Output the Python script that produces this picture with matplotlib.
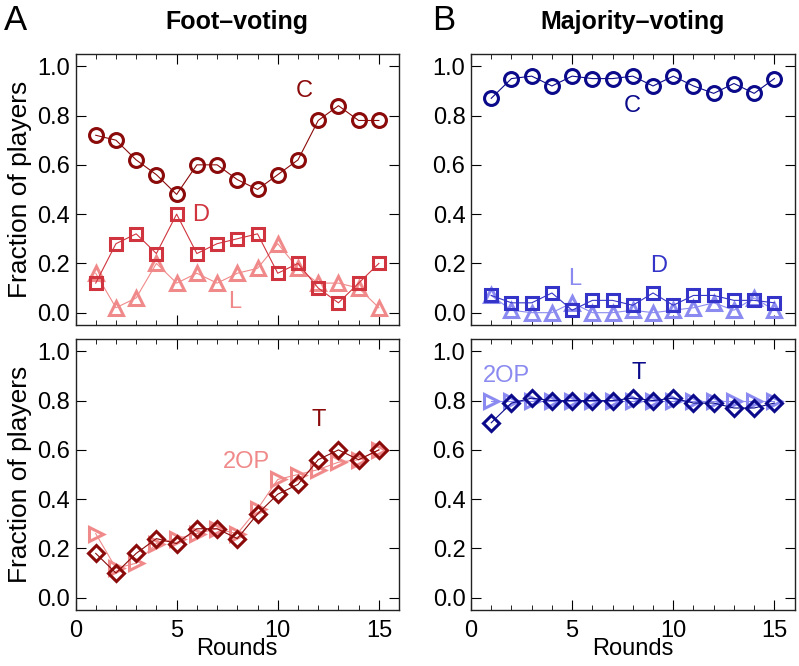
"""Foot-voting vs. majority-voting: fraction of players per round."""

import matplotlib
matplotlib.use("Agg")
import matplotlib.pyplot as plt
from matplotlib.ticker import MultipleLocator

plt.rcParams.update({
    "font.family": ["Liberation Sans", "DejaVu Sans"],
    "xtick.direction": "in",
    "ytick.direction": "in",
    "xtick.top": True,
    "ytick.right": True,
    "xtick.major.size": 7,
    "ytick.major.size": 7,
    "xtick.minor.size": 3.5,
    "axes.linewidth": 1.0,
    "axes.edgecolor": "#222222",
})

rounds = list(range(1, 16))

# Foot-voting (panel A)
foot_C = [0.72, 0.70, 0.62, 0.56, 0.48, 0.60, 0.60, 0.54, 0.50, 0.56, 0.62, 0.78, 0.84, 0.78, 0.78]
foot_D = [0.12, 0.28, 0.32, 0.24, 0.40, 0.24, 0.28, 0.30, 0.32, 0.16, 0.20, 0.10, 0.04, 0.12, 0.20]
foot_L = [0.16, 0.02, 0.06, 0.20, 0.12, 0.16, 0.12, 0.16, 0.18, 0.28, 0.18, 0.12, 0.12, 0.10, 0.02]
foot_T = [0.18, 0.10, 0.18, 0.24, 0.22, 0.28, 0.28, 0.24, 0.34, 0.42, 0.46, 0.56, 0.60, 0.56, 0.60]
foot_2OP = [0.26, 0.12, 0.14, 0.22, 0.24, 0.26, 0.28, 0.26, 0.36, 0.48, 0.50, 0.52, 0.55, 0.56, 0.60]

# Majority-voting (panel B)
maj_C = [0.87, 0.95, 0.96, 0.92, 0.96, 0.95, 0.95, 0.96, 0.92, 0.96, 0.92, 0.89, 0.93, 0.89, 0.95]
maj_D = [0.07, 0.04, 0.04, 0.08, 0.01, 0.05, 0.05, 0.03, 0.08, 0.03, 0.07, 0.07, 0.05, 0.05, 0.04]
maj_L = [0.07, 0.01, 0.00, 0.00, 0.04, 0.00, 0.00, 0.01, 0.00, 0.01, 0.02, 0.04, 0.01, 0.06, 0.01]
maj_T = [0.71, 0.79, 0.81, 0.80, 0.80, 0.80, 0.80, 0.81, 0.80, 0.81, 0.79, 0.79, 0.77, 0.77, 0.79]
maj_2OP = [0.80, 0.80, 0.80, 0.80, 0.80, 0.80, 0.80, 0.80, 0.80, 0.80, 0.80, 0.80, 0.80, 0.80, 0.80]

RED_DARK, RED_MID, RED_LIGHT = "#8B0A0A", "#D0343E", "#F08A8A"
BLUE_DARK, BLUE_MID, BLUE_LIGHT = "#0A0A8B", "#3434C8", "#8A8AF0"

fig = plt.figure(figsize=(7.99, 6.66), dpi=100)
x0_l, x0_r, w = 0.0945, 0.5895, 0.405
ax_a1 = fig.add_axes([x0_l, 0.512, w, 0.407])
ax_a2 = fig.add_axes([x0_l, 0.084, w, 0.407])
ax_b1 = fig.add_axes([x0_r, 0.512, w, 0.407])
ax_b2 = fig.add_axes([x0_r, 0.084, w, 0.407])


def serie(ax, y, marker, color, ms=10, zorder=2):
    ax.plot(rounds, y, color=color, lw=0.8, marker=marker, ms=ms,
            mfc="none", mec=color, mew=2.2, zorder=zorder)


def formato(ax, ylabel=False, xlabel=False):
    ax.set_xlim(0, 16)
    ax.set_ylim(-0.05, 1.05)
    ax.xaxis.set_major_locator(MultipleLocator(5))
    ax.xaxis.set_minor_locator(MultipleLocator(1))
    ax.yaxis.set_major_locator(MultipleLocator(0.2))
    ax.yaxis.set_major_formatter(lambda v, _: f"{v:.1f}")
    ax.tick_params(labelsize=17, pad=4)
    if not xlabel:
        ax.tick_params(labelbottom=False)
    else:
        ax.tick_params(axis="x", pad=7)
        ax.set_xlabel("Rounds", fontsize=17, labelpad=-3)
    if ylabel:
        ax.set_ylabel("Fraction of players", fontsize=19, labelpad=4)


# Panel A
serie(ax_a1, foot_L, "^", RED_LIGHT, zorder=2)
serie(ax_a1, foot_D, "s", RED_MID, ms=8.5, zorder=3)
serie(ax_a1, foot_C, "o", RED_DARK, zorder=4)
ax_a1.text(11.3, 0.90, "C", color=RED_DARK, fontsize=17, ha="center", va="center")
ax_a1.text(6.2, 0.395, "D", color=RED_MID, fontsize=17, ha="center", va="center")
ax_a1.text(7.85, 0.045, "L", color=RED_LIGHT, fontsize=17, ha="center", va="center")
formato(ax_a1, ylabel=True)
ax_a1.set_title("Foot\u2013voting", fontsize=18, weight="bold", pad=18)

serie(ax_a2, foot_2OP, ">", RED_LIGHT, zorder=2)
serie(ax_a2, foot_T, "D", RED_DARK, ms=8.5, zorder=3)
ax_a2.text(12.0, 0.72, "T", color=RED_DARK, fontsize=17, ha="center", va="center")
ax_a2.text(8.45, 0.55, "2OP", color=RED_LIGHT, fontsize=17, ha="center", va="center")
formato(ax_a2, ylabel=True, xlabel=True)

# Panel B
serie(ax_b1, maj_L, "^", BLUE_LIGHT, zorder=2)
serie(ax_b1, maj_D, "s", BLUE_MID, ms=8.5, zorder=3)
serie(ax_b1, maj_C, "o", BLUE_DARK, zorder=4)
ax_b1.text(7.97, 0.84, "C", color=BLUE_DARK, fontsize=17, ha="center", va="center")
ax_b1.text(9.3, 0.19, "D", color=BLUE_MID, fontsize=17, ha="center", va="center")
ax_b1.text(5.15, 0.135, "L", color=BLUE_LIGHT, fontsize=17, ha="center", va="center")
formato(ax_b1)
ax_b1.set_title("Majority\u2013voting", fontsize=18, weight="bold", pad=18)

serie(ax_b2, maj_2OP, ">", BLUE_LIGHT, zorder=2)
serie(ax_b2, maj_T, "D", BLUE_DARK, ms=8.5, zorder=3)
ax_b2.text(8.3, 0.91, "T", color=BLUE_DARK, fontsize=17, ha="center", va="center")
ax_b2.text(1.77, 0.90, "2OP", color=BLUE_LIGHT, fontsize=17, ha="center", va="center")
formato(ax_b2, xlabel=True)

fig.text(15 / 799, 1 - 21 / 666, "A", fontsize=25, ha="center", va="center")
fig.text(444 / 799, 1 - 21 / 666, "B", fontsize=25, ha="center", va="center")

fig.savefig("out.png", dpi=100)
